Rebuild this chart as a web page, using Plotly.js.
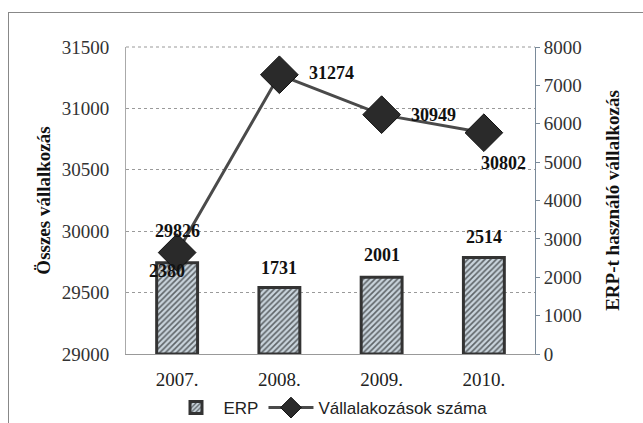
<!DOCTYPE html>
<html>
<head>
<meta charset="utf-8">
<script src="https://cdn.plot.ly/plotly-3.0.1.min.js"></script>
<style>
html,body{margin:0;padding:0;background:#fff;}
#frame{position:absolute;left:8px;top:12px;width:640px;height:420px;border-left:1.5px solid #888;border-top:1.5px solid #888;}
#chart{position:absolute;left:0;top:0;width:643px;height:423px;}
</style>
</head>
<body>
<div id="frame"></div>
<div id="chart"></div>
<script>
var years = ['2007.', '2008.', '2009.', '2010.'];
var erpValues = [2380, 1731, 2001, 2514];
var totalValues = [29826, 31274, 30949, 30802];
var leftTicks = [29000, 29500, 30000, 30500, 31000, 31500];
var rightTicks = [0, 1000, 2000, 3000, 4000, 5000, 6000, 7000, 8000];
var seriesNames = ['ERP', 'Vállalakozások száma'];
var axisTitles = ['Összes vállalkozás', 'ERP-t használó vállalkozás'];

// label offsets (pixels) relative to each data point
var lineLabelShiftX = [0, 52, 52, 20];
var lineLabelShiftY = [22, 2, 0, -30];
var barLabelShiftX = [-10, 0, 0, 0];
var barLabelShiftY = [-8, 20, 22, 21];

var serif = 'Liberation Serif';
var xIdx = years.map(function (_, i) { return i; });

var bars = {
  type: 'bar',
  name: seriesNames[0],
  x: xIdx,
  y: erpValues,
  xaxis: 'x',
  yaxis: 'y',
  width: 0.4,
  marker: {
    color: '#c5d0d8',
    pattern: {shape: '/', size: 4, solidity: 0.4, fgcolor: '#5e6468', bgcolor: '#c9d4dc'},
    line: {color: '#333', width: 3}
  },
  hoverinfo: 'skip'
};

var line = {
  type: 'scatter',
  mode: 'lines+markers',
  name: seriesNames[1],
  x: xIdx,
  y: totalValues,
  xaxis: 'x',
  yaxis: 'y2',
  cliponaxis: false,
  line: {color: '#4a4a4a', width: 3},
  marker: {symbol: 'diamond', size: 29, color: '#2a2a2a', line: {color: '#111', width: 1}},
  hoverinfo: 'skip'
};

var labelFont = {family: serif, size: 18, color: '#111', weight: 'bold'};
var annotations = [];
xIdx.forEach(function (xi, i) {
  annotations.push({
    x: xi, y: totalValues[i], xref: 'x', yref: 'y2',
    text: String(totalValues[i]), showarrow: false,
    xshift: lineLabelShiftX[i], yshift: lineLabelShiftY[i], font: labelFont
  });
  annotations.push({
    x: xi, y: erpValues[i], xref: 'x', yref: 'y',
    text: String(erpValues[i]), showarrow: false,
    xshift: barLabelShiftX[i], yshift: barLabelShiftY[i], font: labelFont
  });
});

var layout = {
  width: 643,
  height: 423,
  margin: {l: 126, r: 108, t: 47, b: 69, autoexpand: false},
  paper_bgcolor: 'rgba(0,0,0,0)',
  plot_bgcolor: 'rgba(0,0,0,0)',
  showlegend: true,
  legend: {
    orientation: 'h', x: 0.5, xanchor: 'center', y: -0.176, yanchor: 'middle',
    font: {family: 'Liberation Sans Narrow, Liberation Sans', size: 17, color: '#222'},
    itemwidth: 45,
    traceorder: 'normal'
  },
  xaxis: {
    range: [-0.5, 3.5],
    tickvals: xIdx,
    ticktext: years,
    showgrid: false,
    zeroline: false,
    showline: true,
    linecolor: '#999',
    linewidth: 1,
    ticks: '',
    ticklabelstandoff: 8,
    tickfont: {family: serif, size: 19, color: '#222'},
    fixedrange: true
  },
  yaxis: {
    side: 'right',
    range: [0, 8000],
    tickvals: rightTicks,
    ticktext: rightTicks.map(String),
    showgrid: false,
    zeroline: false,
    showline: true,
    linecolor: '#7a8a99',
    linewidth: 1,
    ticks: 'outside',
    ticklen: 4,
    tickcolor: '#7a8a99',
    tickfont: {family: serif, size: 19, color: '#333'},
    title: {text: axisTitles[1], font: {family: serif, size: 19, color: '#111', weight: 'bold'}, standoff: 24},
    fixedrange: true
  },
  yaxis2: {
    overlaying: 'y',
    side: 'left',
    range: [29000, 31500],
    tickvals: leftTicks,
    ticktext: leftTicks.map(String),
    showgrid: true,
    gridcolor: '#9a9a9a',
    griddash: 'dot',
    gridwidth: 1,
    zeroline: false,
    showline: true,
    linecolor: '#aaa',
    linewidth: 1,
    ticks: '',
    ticklabelstandoff: 12,
    tickfont: {family: serif, size: 19, color: '#333'},
    title: {text: axisTitles[0], font: {family: serif, size: 19, color: '#111', weight: 'bold'}, standoff: 6},
    fixedrange: true
  },
  annotations: annotations,
  shapes: [
    {type: 'line', xref: 'paper', yref: 'paper', x0: 0, x1: 1, y0: 1, y1: 1, line: {color: '#999', width: 1, dash: 'dot'}}
  ]
};

Plotly.newPlot('chart', [bars, line], layout, {displayModeBar: false, staticPlot: true});
</script>
</body>
</html>
